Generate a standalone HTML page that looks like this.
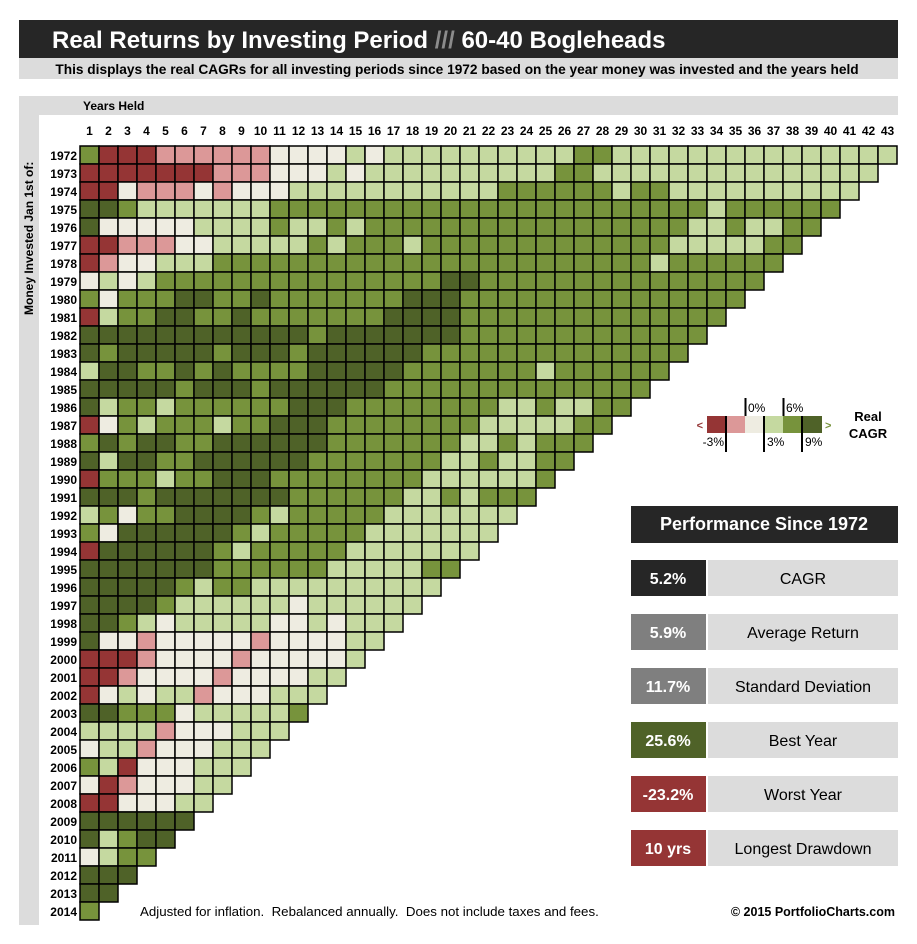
<!DOCTYPE html>
<html><head><meta charset="utf-8"><style>
body{margin:0;background:#fff;width:917px;height:939px;overflow:hidden;font-family:"Liberation Sans",Arial,sans-serif}
svg text{font-family:"Liberation Sans",Arial,sans-serif}
</style></head><body>
<svg id="chart" width="917" height="939" viewBox="0 0 917 939" xmlns="http://www.w3.org/2000/svg">
<rect x="19" y="20" width="879" height="38" fill="#262626"/>
<text x="52" y="48" font-size="24" font-weight="bold" fill="#fff">Real Returns by Investing Period <tspan fill="#8c8c8c">///</tspan> 60-40 Bogleheads</text>
<rect x="19" y="58" width="879" height="21" fill="#dcdcdc"/>
<text x="457" y="74" font-size="13.7" font-weight="bold" text-anchor="middle">This displays the real CAGRs for all investing periods since 1972 based on the year money was invested and the years held</text>
<rect x="19" y="96" width="879" height="19" fill="#dcdcdc"/>
<rect x="19" y="96" width="20" height="829" fill="#dcdcdc"/>
<text x="83" y="110" font-size="12" font-weight="bold">Years Held</text>
<text transform="translate(33,315) rotate(-90)" font-size="12" font-weight="bold">Money Invested Jan 1st of:</text>
<g id="cells"></g><g id="xt"></g><g id="yt"></g>
<g>
<rect x="707" y="416" width="19" height="17" fill="#953535"/><rect x="726" y="416" width="19" height="17" fill="#dc9898"/>
<rect x="745" y="416" width="19" height="17" fill="#eeece1"/><rect x="764" y="416" width="19" height="17" fill="#c5d9a0"/>
<rect x="783" y="416" width="19" height="17" fill="#77933c"/><rect x="802" y="416" width="20" height="17" fill="#4f6228"/>
<line x1="745.5" y1="398" x2="745.5" y2="416" stroke="#000" stroke-width="2"/><line x1="783.5" y1="398" x2="783.5" y2="416" stroke="#000" stroke-width="2"/>
<line x1="726" y1="416" x2="726" y2="452" stroke="#000" stroke-width="2"/><line x1="764" y1="416" x2="764" y2="452" stroke="#000" stroke-width="2"/><line x1="802" y1="416" x2="802" y2="452" stroke="#000" stroke-width="2"/>
<text x="748" y="412" font-size="12">0%</text><text x="786" y="412" font-size="12">6%</text>
<text x="724" y="446" font-size="12" text-anchor="end">-3%</text><text x="767" y="446" font-size="12">3%</text><text x="805" y="446" font-size="12">9%</text>
<text x="703" y="429" font-size="11" font-weight="bold" fill="#953535" text-anchor="end">&lt;</text>
<text x="825" y="429" font-size="11" font-weight="bold" fill="#77933c">&gt;</text>
<text x="868" y="421" font-size="13" font-weight="bold" text-anchor="middle">Real</text>
<text x="868" y="438" font-size="13" font-weight="bold" text-anchor="middle">CAGR</text>
</g>
<rect x="631" y="506" width="267" height="37" fill="#262626"/>
<text x="764" y="530" font-size="18" font-weight="bold" fill="#fff" text-anchor="middle">Performance Since 1972</text>
<g id="stats"></g>
<text x="140" y="916" font-size="13.3" xml:space="preserve" style="white-space:pre">Adjusted for inflation.  Rebalanced annually.  Does not include taxes and fees.</text>
<text x="895" y="916" font-size="12.5" font-weight="bold" text-anchor="end">© 2015 PortfolioCharts.com</text>
</svg>
<script>
const years=[];for(let y=1972;y<=2014;y++)years.push(y);
const heldLabels=[];for(let h=1;h<=43;h++)heldLabels.push(h);
const categoryKeys=["R","P","C","L","M","D"];
const categoryColors={R:"#953535",P:"#dc9898",C:"#eeece1",L:"#c5d9a0",M:"#77933c",D:"#4f6228"};
const cagrCategories=[
"MRRRPPPPPPCCCCLCLLLLLLLLLLMMLLLLLLLLLLLLLLL",
"RRRRRRRPPPCCCLCLLLLLLLLLLMMLLLLLLLLLLLLLLL",
"RRCPPPCPCCCLLLLLLLLLLLMMMMMMLMMLLLLLLLLLL",
"DDMLLLLLLLMMMMMMMMMMMMMMMMMMMMMMMLMMMMMM",
"DCCCCCLLLLMLLMLMMMMMMMMMMMMMMMMMLLMLLMM",
"RRPPPCCLLLLLMLMMMLMMMMMMMMMMMMMLLLLLMM",
"RPCCLLLMMMMMMMMMMMMMMMMMMMMMMMLMMMMMM",
"CLCLMMMMMMMMMMMMMMMDDMMMMMMMMMMMMMMM",
"MCMMMDDMMDMMMMMMMDDDMMMMMMMMMMMMMMM",
"RLMMDDMMDMMMMMMMDDDDMMMMMMMMMMMMMM",
"DDDDDDDDDDDDMDDDDDDDMMMMMMMMMMMMM",
"DMDDDDDMDDDMDDDDDDMMMMMMMMMMMMMM",
"LDDMMDMDMMMMDDDDDMMMMMMMLMMMMMM",
"DDDDDMDDDMDDDDDDMMMMMMMMMMMMMM",
"DLMMLMMMMMMDDDMMMMMMMMLLMLLMM",
"RCMLMMMLMMDDDMMMMMMMMLLLLLMM",
"MDMDDMMDDDDDDMMMMMMMLLMLMMM",
"DLDDMMDDDDDDMMMMMMMLLMLLMM",
"RMMMLMMDDDMMMMMMMMLLLLLLM",
"DDDMDDDDDDDMMMMMMLLMLMMM",
"LMCMMDDDDMLMMMMMLLLLLLL",
"MCDDDDDDMLMMMMMLLLLLLL",
"RDDDDDDMLMMMMMLLLLLLL",
"DDDDDDDMMMMMMLLLLLMM",
"DDDDDMLMMLLLLLLLLLL",
"DDDDMLLLLLLCLLLLLL",
"DDMLCLLLLLCCLCLLL",
"DCCPCCCCCPCCCCLL",
"RRRPCCCCPCCCCCL",
"RRPCCCCPCCCCLL",
"RCLCLLPCCCLLL",
"DDMMMCLLLLLM",
"LLLLPCCCLLL",
"CLLPCCCLLL",
"MLRCCCLLL",
"CRPCCCLL",
"RRCCCLL",
"DDDDDD",
"DLMDD",
"CLMM",
"DDD",
"DD",
"M"];
const statValues=["5.2%","5.9%","11.7%","25.6%","-23.2%","10 yrs"];
const statLabels=["CAGR","Average Return","Standard Deviation","Best Year","Worst Year","Longest Drawdown"];
const statColors=["#262626","#7f7f7f","#7f7f7f","#4f6228","#953535","#953535"];
const NS="http://www.w3.org/2000/svg";
const X0=80,Y0=146,CW=19,CH=18;
function xScale(h){return X0+CW*(h-1);}
function yScale(yr){return Y0+CH*(yr-1972);}
const cg=document.getElementById("cells");
cagrCategories.forEach((row,ri)=>{
  const yr=years[ri];
  for(let c=0;c<row.length;c++){
    const r=document.createElementNS(NS,"rect");
    r.setAttribute("x",xScale(c+1));r.setAttribute("y",yScale(yr));
    r.setAttribute("width",CW);r.setAttribute("height",CH);
    r.setAttribute("fill",categoryColors[row[c]]);
    r.setAttribute("stroke","#000");r.setAttribute("stroke-width","1.5");
    
    
    cg.appendChild(r);
  }
});
const xt=document.getElementById("xt");
heldLabels.forEach(h=>{
  const t=document.createElementNS(NS,"text");
  t.setAttribute("x",xScale(h)+CW/2);t.setAttribute("y",135);
  t.setAttribute("font-size","12");t.setAttribute("font-weight","bold");t.setAttribute("text-anchor","middle");
  t.textContent=h;
  
  
  xt.appendChild(t);
});
const yt=document.getElementById("yt");
years.forEach(y=>{
  const t=document.createElementNS(NS,"text");
  t.setAttribute("x",77);t.setAttribute("y",yScale(y)+14);
  t.setAttribute("font-size","12");t.setAttribute("font-weight","bold");t.setAttribute("text-anchor","end");
  t.textContent=y;
  
  
  yt.appendChild(t);
});
const sg=document.getElementById("stats");
statValues.forEach((v,i)=>{
  const y=560+54*i;
  const a=document.createElementNS(NS,"rect");
  a.setAttribute("x",631);a.setAttribute("y",y);a.setAttribute("width",75);a.setAttribute("height",36);a.setAttribute("fill",statColors[i]);
  
  
  sg.appendChild(a);
  const b=document.createElementNS(NS,"rect");
  b.setAttribute("x",708);b.setAttribute("y",y);b.setAttribute("width",190);b.setAttribute("height",36);b.setAttribute("fill","#dcdcdc");
  
  
  sg.appendChild(b);
  const t=document.createElementNS(NS,"text");
  t.setAttribute("x",668);t.setAttribute("y",y+24);t.setAttribute("font-size","16");t.setAttribute("font-weight","bold");t.setAttribute("fill","#fff");t.setAttribute("text-anchor","middle");
  t.textContent=v;
  
  
  sg.appendChild(t);
  const l=document.createElementNS(NS,"text");
  l.setAttribute("x",803);l.setAttribute("y",y+24);l.setAttribute("font-size","16");l.setAttribute("text-anchor","middle");
  l.textContent=statLabels[i];
  
  
  sg.appendChild(l);
});
</script>
</body></html>
